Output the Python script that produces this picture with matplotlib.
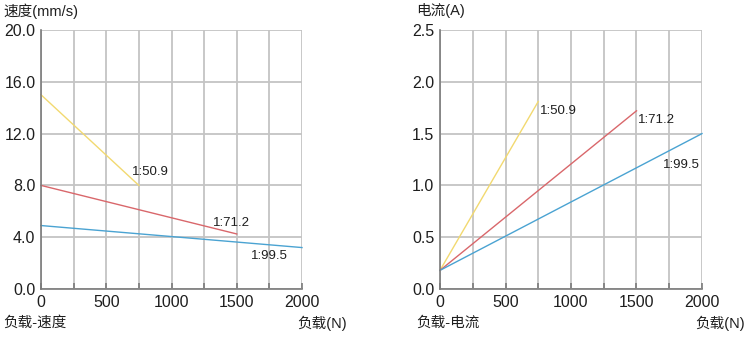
import matplotlib
matplotlib.use('Agg')
import matplotlib.pyplot as plt

plt.rcParams['font.family'] = ['Liberation Sans', 'Noto Sans CJK SC', 'DejaVu Sans']

# ── Data ─────────────────────────────────────────────────────
ratios = ['1:50.9', '1:71.2', '1:99.5']
colors = ['#f2d970', '#d9676b', '#4aa3d2']

load_end = [750, 1500, 2000]          # max load (N) for each ratio

speed_start = [15.0, 8.0, 4.9]        # mm/s at 0 N
speed_end   = [8.0, 4.25, 3.2]        # mm/s at max load

current_start = [0.18, 0.18, 0.18]    # A at 0 N
current_end   = [1.81, 1.72, 1.5]     # A at max load

x_ticks = [0, 500, 1000, 1500, 2000]
speed_ticks = [0.0, 4.0, 8.0, 12.0, 16.0, 20.0]
current_ticks = [0.0, 0.5, 1.0, 1.5, 2.0, 2.5]

# label anchor (load, value) for each line
speed_lbl   = [(700, 9.0), (1320, 5.1), (1610, 2.55)]
current_lbl = [(760, 1.72), (1510, 1.63), (1700, 1.2)]

GRID = '#c4c4c4'
SPINE = '#7a7a7a'
TXT = '#1e1e1e'

fig = plt.figure(figsize=(7.47, 3.38), dpi=100)
ax1 = fig.add_axes([41/747, 1-289/338, 261/747, 259/338])
ax2 = fig.add_axes([440/747, 1-289/338, 262/747, 259/338])


def style_axis(ax, yticks, fmt):
    ax.set_xlim(0, 2000)
    ax.set_ylim(yticks[0], yticks[-1])
    ax.set_xticks(x_ticks)
    ax.set_xticks(range(0, 2001, 250), minor=True)
    ax.set_yticks(yticks)
    ax.set_yticklabels([fmt.format(v) for v in yticks])
    ax.grid(True, which='both', axis='x', color=GRID, linewidth=1.3)
    ax.grid(True, axis='y', color=GRID, linewidth=1.3)
    ax.set_axisbelow(True)
    for s in ['top', 'right']:
        ax.spines[s].set_visible(False)
    for s in ['left', 'bottom']:
        ax.spines[s].set_color(SPINE)
        ax.spines[s].set_linewidth(1.2)
    ax.tick_params(axis='x', which='both', direction='in', length=4,
                   color=SPINE, width=1.2, labelsize=11.5, pad=4,
                   labelcolor=TXT)
    ax.tick_params(axis='y', length=0, labelsize=11.5, pad=4,
                   labelcolor=TXT)


style_axis(ax1, speed_ticks, '{:.1f}')
style_axis(ax2, current_ticks, '{:.1f}')

for i, r in enumerate(ratios):
    ax1.plot([0, load_end[i]], [speed_start[i], speed_end[i]],
             color=colors[i], linewidth=1.0, clip_on=False)
    ax1.text(speed_lbl[i][0], speed_lbl[i][1], r, fontsize=9.5,
             color=TXT, ha='left', va='center')
    ax2.plot([0, load_end[i]], [current_start[i], current_end[i]],
             color=colors[i], linewidth=1.0, clip_on=False)
    ax2.text(current_lbl[i][0], current_lbl[i][1], r, fontsize=9.5,
             color=TXT, ha='left', va='center')

# axis titles
fig.text(3/747, 1-11/338, '速度(mm/s)', fontsize=10.5, va='center', ha='left', color=TXT)
fig.text(3/747, 1-323/338, '负载-速度', fontsize=10.5, va='center', ha='left', color=TXT)
fig.text(297/747, 1-323/338, '负载(N)', fontsize=10.5, va='center', ha='left', color=TXT)

fig.text(416/747, 1-11/338, '电流(A)', fontsize=10.5, va='center', ha='left', color=TXT)
fig.text(416/747, 1-323/338, '负载-电流', fontsize=10.5, va='center', ha='left', color=TXT)
fig.text(695/747, 1-323/338, '负载(N)', fontsize=10.5, va='center', ha='left', color=TXT)

fig.savefig('out.png', dpi=100)
